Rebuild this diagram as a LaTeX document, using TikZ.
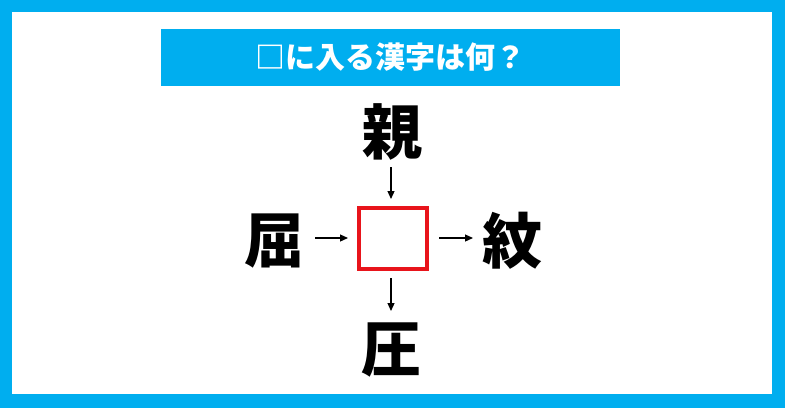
\documentclass[tikz,border=0pt]{standalone}
\usepackage{fontspec}
\newfontfamily\cjk{Noto Sans CJK JP}
\usetikzlibrary{arrows.meta}
\definecolor{frameblue}{HTML}{00AEEF}
\definecolor{boxred}{HTML}{E8141B}
\tikzset{
  kanji/.style={font=\cjk\bfseries\fontsize{60}{60}\selectfont, text=black, inner sep=0pt},
  arr/.style={-{Triangle[length=8pt,width=7pt]}, line width=1.2pt, black},
  redbox/.style={draw=boxred, line width=4pt, minimum width=68pt, minimum height=61pt, inner sep=0pt}
}
\begin{document}
\begin{tikzpicture}[x=1pt,y=-1pt]
\fill[frameblue] (0,0) rectangle (785,408);
\fill[white] (12,12) rectangle (772,394);
\node[fill=frameblue, minimum width=459pt, minimum height=57pt, inner sep=0pt,
  text=white, font=\cjk\bfseries\fontsize{30}{30}\selectfont] (title) at (390.5,57.5) {□に入る漢字は何？};
\node[redbox] (box) at (393,238) {};
\node[kanji] (top) at (392,132) {親};
\node[kanji] (left) at (274,241) {屈};
\node[kanji] (right) at (512,241) {紋};
\node[kanji] (bottom) at (391,350) {圧};
\coordinate (ts) at (391,167);
\coordinate (te) at (391,199);
\coordinate (ls) at (315,238);
\coordinate (le) at (348,238);
\coordinate (rs) at (439,238);
\coordinate (re) at (473,238);
\coordinate (bs) at (391,278);
\coordinate (be) at (391,311);
\draw[arr] (ts) -- (te);
\draw[arr] (ls) -- (le);
\draw[arr] (rs) -- (re);
\draw[arr] (bs) -- (be);
\end{tikzpicture}
\end{document}
